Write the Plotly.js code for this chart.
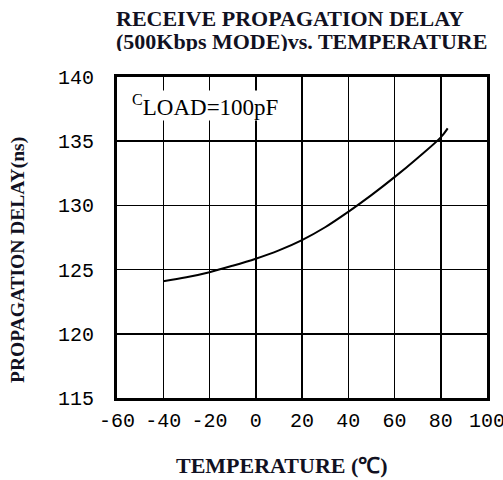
<!DOCTYPE html>
<html>
<head>
<meta charset="utf-8">
<script src="https://cdn.plot.ly/plotly-3.0.1.min.js"></script>
<style>html,body{margin:0;padding:0;background:#fff;}#chart{width:503px;height:480px;}</style>
</head>
<body>
<div id="chart"></div>
<script>
var temperature = [-40, -30, -20, -10, 0, 10, 20, 30, 40, 50, 60, 70, 80, 83];
var delay = [124.1, 124.4, 124.8, 125.3, 125.85, 126.5, 127.3, 128.3, 129.5, 130.8, 132.2, 133.7, 135.3, 136.0];
var xTicks = [-60, -40, -20, 0, 20, 40, 60, 80, 100];
var yTicks = [115, 120, 125, 130, 135, 140];
var titleLines = ['RECEIVE PROPAGATION DELAY', '(500Kbps MODE)vs. TEMPERATURE'];

var serif = 'Liberation Serif, Times New Roman, serif';
var textColor = '#111122';
var tickFont = {family: 'Liberation Mono, DejaVu Sans Mono, monospace', size: 20, color: '#000'};

var trace = {
  x: temperature, y: delay, type: 'scatter', mode: 'lines',
  line: {color: '#000', width: 2, shape: 'spline'},
  hoverinfo: 'skip'
};

var W = 503, H = 480;
var L = 117, R = 487, T = 77, B = 398;
function px(x) { return (x - L) / (R - L); }
function py(y) { return (B - y) / (B - T); }

var layout = {
  width: W, height: H,
  margin: {l: L, r: W - R, t: T, b: H - B},
  paper_bgcolor: '#fff', plot_bgcolor: '#fff',
  showlegend: false,
  xaxis: {
    range: [-60, 100], tickvals: xTicks, ticktext: xTicks.map(String),
    showgrid: true, gridcolor: '#000', gridwidth: 1.5,
    showline: true, linecolor: '#000', linewidth: 3, mirror: true,
    zeroline: false, ticks: '', tickfont: tickFont, ticklabelstandoff: 2,
    ticklabeloverflow: 'allow'
  },
  yaxis: {
    range: [115, 140], tickvals: yTicks, ticktext: yTicks.map(String),
    showgrid: true, gridcolor: '#000', gridwidth: 1.5,
    showline: true, linecolor: '#000', linewidth: 3, mirror: true,
    zeroline: false, ticks: '', tickfont: tickFont, ticklabelstandoff: 16,
    ticklabeloverflow: 'allow'
  },
  annotations: [{
    xref: 'paper', yref: 'paper', x: px(115), y: py(18), xanchor: 'left', yanchor: 'middle',
    text: '<b>' + titleLines[0] + '</b>', showarrow: false, height: 20, borderpad: 0,
    font: {family: serif, size: 22, color: textColor}
  }, {
    xref: 'paper', yref: 'paper', x: px(115), y: py(41), xanchor: 'left', yanchor: 'middle',
    text: '<b>' + titleLines[1] + '</b>', showarrow: false, height: 20, borderpad: 0,
    font: {family: serif, size: 22, color: textColor}
  }, {
    xref: 'paper', yref: 'paper', x: px(131), y: py(90), xanchor: 'left', yanchor: 'top',
    text: '<sup>C</sup>LOAD=100pF', showarrow: false,
    font: {family: serif, size: 23, color: '#000'},
    bgcolor: '#fff', borderpad: 0
  }, {
    xref: 'paper', yref: 'paper', x: px(282), y: py(465), xanchor: 'center', yanchor: 'middle',
    text: '<b>TEMPERATURE (℃)</b>', showarrow: false,
    font: {family: serif, size: 22, color: textColor}
  }, {
    xref: 'paper', yref: 'paper', x: px(18), y: py(260), xanchor: 'center', yanchor: 'middle',
    text: '<b>PROPAGATION DELAY(ns)</b>', showarrow: false, textangle: -90,
    font: {family: serif, size: 19.5, color: textColor}
  }]
};

Plotly.newPlot('chart', [trace], layout, {staticPlot: true, displayModeBar: false});
</script>
</body>
</html>
